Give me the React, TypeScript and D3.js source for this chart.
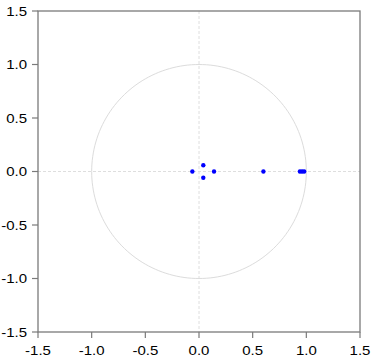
import React from "react";
import * as d3 from "d3";

const realParts = [-0.062, 0.04, 0.04, 0.14, 0.6, 0.94, 0.96, 0.98];
const imagParts = [0, 0.058, -0.058, 0, 0, 0, 0, 0];
const tickValues = [-1.5, -1.0, -0.5, 0.0, 0.5, 1.0, 1.5];

export default function App() {
  const W = 376, H = 361;
  const left = 38, top = 11, right = 360, bottom = 332;
  const x = d3.scaleLinear().domain([-1.5, 1.5]).range([left, right]);
  const y = d3.scaleLinear().domain([-1.5, 1.5]).range([bottom, top]);
  const circle = d3.range(0, 361, 2).map((a) => [Math.cos((a * Math.PI) / 180), Math.sin((a * Math.PI) / 180)] as [number, number]);
  const line = d3.line<[number, number]>().x((d) => x(d[0])).y((d) => y(d[1]));
  const axisColor = "#7a7a7a";
  const font = "Liberation Sans, Arial, sans-serif";
  const sx = 1.2;
  return (
    <svg width={W} height={H} style={{ position: "absolute", left: 0, top: 0, background: "#fff" }}>
      <line x1={x(0)} x2={x(0)} y1={top} y2={bottom} stroke="#dedede" strokeDasharray="3,2" strokeWidth={1} />
      <line x1={left} x2={right} y1={y(0)} y2={y(0)} stroke="#dedede" strokeDasharray="3,2" strokeWidth={1} />
      <path d={line(circle) || ""} fill="none" stroke="#dcdcdc" strokeWidth={1} />
      {realParts.map((r, i) => (
        <circle key={i} cx={x(r)} cy={y(imagParts[i])} r={2.2} fill="#0000ff" />
      ))}
      <rect x={left} y={top} width={right - left} height={bottom - top} fill="none" stroke={axisColor} strokeWidth={1.3} />
      {tickValues.map((t) => (
        <g key={"y" + t}>
          <line x1={left - 6} x2={left} y1={y(t)} y2={y(t)} stroke={axisColor} strokeWidth={1.2} />
          <text transform={`translate(27,${y(t)}) scale(${sx},1)`} dy="0.36em" textAnchor="end" fontFamily={font} fontSize={12.5} fill="#000">
            {t.toFixed(1)}
          </text>
        </g>
      ))}
      {tickValues.map((t) => (
        <g key={"x" + t}>
          <line x1={x(t)} x2={x(t)} y1={bottom} y2={bottom + 6} stroke={axisColor} strokeWidth={1.2} />
          <text transform={`translate(${x(t)},355) scale(${sx},1)`} textAnchor="middle" fontFamily={font} fontSize={12.5} fill="#000">
            {t.toFixed(1)}
          </text>
        </g>
      ))}
    </svg>
  );
}
